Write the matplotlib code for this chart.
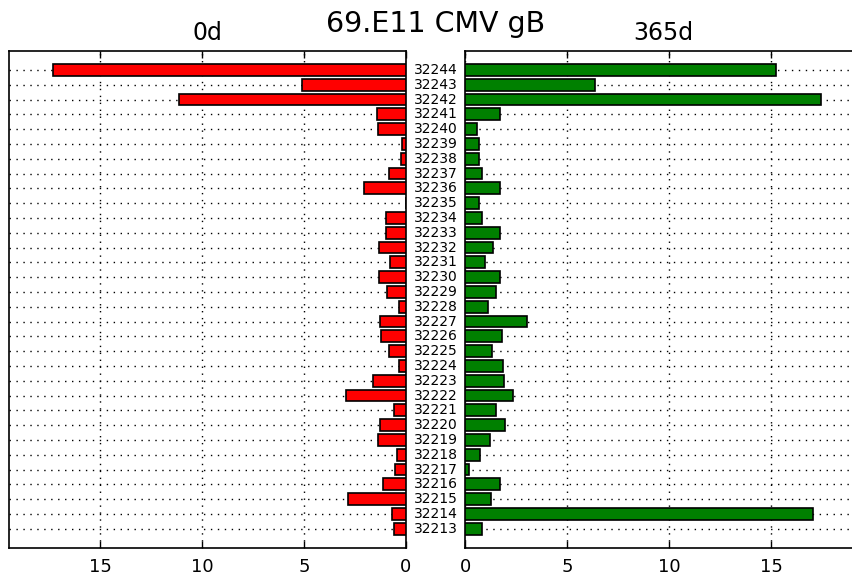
import matplotlib
matplotlib.use("Agg")
import matplotlib.pyplot as plt
import matplotlib.transforms as mtransforms

# sample ids, bottom to top
ids = ["32213", "32214", "32215", "32216", "32217", "32218", "32219", "32220",
       "32221", "32222", "32223", "32224", "32225", "32226", "32227", "32228",
       "32229", "32230", "32231", "32232", "32233", "32234", "32235", "32236",
       "32237", "32238", "32239", "32240", "32241", "32242", "32243", "32244"]

# values at day 0 (left panel)
day0 = [0.57, 0.70, 2.84, 1.11, 0.52, 0.46, 1.36, 1.26,
        0.60, 2.92, 1.63, 0.34, 0.82, 1.21, 1.26, 0.34,
        0.93, 1.34, 0.77, 1.34, 0.99, 0.98, 0.0, 2.07,
        0.82, 0.23, 0.21, 1.39, 1.42, 11.13, 5.11, 17.29]

# values at day 365 (right panel)
day365 = [0.82, 17.06, 1.27, 1.70, 0.20, 0.74, 1.19, 1.93,
          1.49, 2.35, 1.88, 1.83, 1.31, 1.80, 3.04, 1.10,
          1.50, 1.72, 0.95, 1.36, 1.70, 0.80, 0.69, 1.68,
          0.82, 0.65, 0.65, 0.56, 1.68, 17.45, 6.34, 15.21]

xticks = [0, 5, 10, 15]
pos = list(range(len(ids)))

fig = plt.figure(figsize=(8.53, 5.79), dpi=100)
ax_l = fig.add_axes([9 / 853, 31 / 579, 397 / 853, 497.3 / 579])
ax_r = fig.add_axes([465.3 / 853, 31 / 579, 397 / 853, 497.3 / 579])

ax_l.barh(pos, day0, height=0.8, color="#ff0000", edgecolor="black", linewidth=1.2, zorder=3)
ax_r.barh(pos, day365, height=0.8, color="#008000", edgecolor="black", linewidth=1.2, zorder=3)

for ax in (ax_l, ax_r):
    ax.set_ylim(-1.3, len(ids) - 1 + 1.3)
    ax.set_xlim(0, 19.46)
    ax.set_xticks(xticks)
    ax.set_yticks(pos)
    ax.set_yticklabels([])
    ax.tick_params(axis="y", length=0)
    ax.tick_params(axis="x", direction="in", length=5, width=1, top=True,
                   labelsize=13, pad=7)
    ax.grid(True, linestyle=(0, (1, 4)), color="black", linewidth=1)
    ax.set_axisbelow(True)
    for s in ax.spines.values():
        s.set_linewidth(1.2)

ax_l.invert_xaxis()

ax_l.set_title("0d", fontsize=17, pad=8)
ax_r.set_title("365d", fontsize=17, pad=8)

# id labels centred between the two panels
trans = mtransforms.blended_transform_factory(fig.transFigure, ax_r.transData)
for p, name in zip(pos, ids):
    fig.text(435.6 / 853, p, name, transform=trans, ha="center", va="center", fontsize=10)

fig.text(435.6 / 853, 1 - 32.3 / 579, "69.E11 CMV gB", ha="center", va="baseline", fontsize=20.5)

fig.savefig("out.png", dpi=100)
